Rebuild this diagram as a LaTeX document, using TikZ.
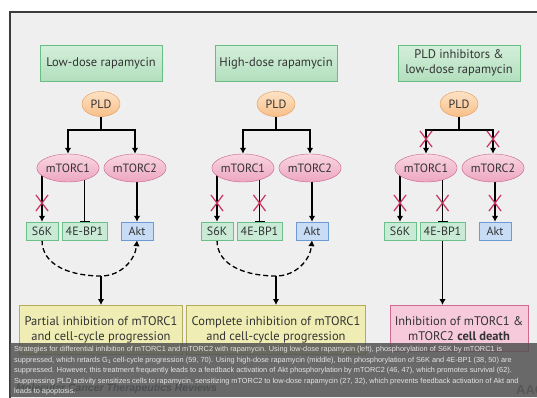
\documentclass[tikz,border=0pt]{standalone}
\usepackage{fontspec}
\setmainfont{PT Sans}
\newfontfamily\capfont{Liberation Sans}
\usetikzlibrary{positioning,shapes.geometric,shapes.misc,arrows.meta,backgrounds}
\definecolor{cPanel}{HTML}{EFEFEF}
\definecolor{cFrame}{HTML}{3C3C3C}
\definecolor{cHeadTop}{HTML}{D4EFDA}
\definecolor{cHeadBot}{HTML}{B2DFBE}
\definecolor{cHeadLine}{HTML}{68BD82}
\definecolor{cPldTop}{HTML}{FDE3C6}
\definecolor{cPldBot}{HTML}{F8BF88}
\definecolor{cPldLine}{HTML}{E39552}
\definecolor{cTorTop}{HTML}{F9D6E2}
\definecolor{cTorBot}{HTML}{EDA6C0}
\definecolor{cTorLine}{HTML}{C65F88}
\definecolor{cSub}{HTML}{C9EBD6}
\definecolor{cSubLine}{HTML}{6BBF8A}
\definecolor{cAkt}{HTML}{C8DDF5}
\definecolor{cAktLine}{HTML}{6C9AD4}
\definecolor{cOut}{HTML}{EFEDB4}
\definecolor{cOutLine}{HTML}{B2AC5C}
\definecolor{cDeath}{HTML}{F6CADB}
\definecolor{cDeathLine}{HTML}{D06890}
\definecolor{cBlock}{HTML}{C8325F}
\definecolor{cVeil}{HTML}{525252}
\definecolor{cCap}{HTML}{E4E4E4}
\definecolor{cBrand}{HTML}{34404C}

\begin{document}
\begin{tikzpicture}[
  x=1pt, y=-1pt,
  font=\fontsize{12}{14}\selectfont,
  >={Latex[length=6pt,width=6.5pt]},
  hd/.style   = {draw=cHeadLine, top color=cHeadTop, bottom color=cHeadBot,
                 minimum width=122pt, minimum height=36pt, align=center,
                 text=black!80, font=\fontsize{12.5}{15}\selectfont},
  pld/.style  = {ellipse, draw=cPldLine, top color=cPldTop, bottom color=cPldBot,
                 minimum width=38pt, minimum height=25pt, inner sep=0pt, text=black!80},
  tor/.style  = {ellipse, draw=cTorLine, top color=cTorTop, bottom color=cTorBot,
                 minimum width=58pt, minimum height=28pt, inner sep=0pt, text=black!80},
  sub/.style  = {draw=cSubLine, fill=cSub, minimum width=32pt, minimum height=18pt,
                 inner xsep=4pt, text=black!80},
  akt/.style  = {sub, draw=cAktLine, fill=cAkt},
  res/.style  = {draw=cOutLine, fill=cOut, anchor=north, align=center,
                 inner xsep=5pt, inner ysep=11pt, text=black!80,
                 font=\fontsize{12.5}{15}\selectfont},
  blk/.style  = {cross out, draw=cBlock, line width=1.2pt,
                 minimum width=11pt, minimum height=15pt, inner sep=0pt},
  ln/.style   = {draw=black, line width=1.3pt},
  ar/.style   = {ln, ->},
  inh/.style  = {ln, -{Bar[width=10pt]}},
  dsh/.style  = {ar, dash pattern=on 5pt off 3pt},
]
\useasboundingbox (0,0) rectangle (537,397);
\begin{pgfonlayer}{background}
  \fill[white] (0,0) rectangle (537,397);
  \draw[cFrame, line width=1.5pt, fill=cPanel] (10,12) rectangle (547,407);
\end{pgfonlayer}

% one column per treatment
\foreach \c/\off/\head in {
  1/0/{Low-dose rapamycin},
  2/175/{High-dose rapamycin},
  3/358/{PLD inhibitors \&\\low-dose rapamycin}}
{
  \begin{scope}[xshift=\off pt]
    \node[hd]  (hd\c)   at (101,63)  {\head};
    \node[pld] (pld\c)  at (101,104) {PLD};
    \node[tor] (tora\c) at (68,168)  {mTORC1};
    \node[tor] (torb\c) at (135,168) {mTORC2};
    \node[sub] (s6k\c)  at (42,231)  {S6K};
    \node[sub] (bp\c)   at (84.5,231) {4E-BP1};
    \node[akt] (akt\c)  at (137,231) {Akt};
    \coordinate (br\c)  at (101,130);
    \begin{pgfonlayer}{background}
      \draw[ln]  (pld\c) -- (br\c);
      \draw[ar, <->] (tora\c.north) |- (br\c) -| (torb\c.north);
      \draw[ar]  (s6k\c.north |- tora\c) -- (s6k\c.north);
      \draw[inh] (bp\c.north |- tora\c) -- (bp\c.north);
      \draw[ar]  (akt\c.north |- torb\c) -- (akt\c.north);
    \end{pgfonlayer}
  \end{scope}
}

% feedback loop to Akt
\foreach \c/\txt in {
  1/{Partial inhibition of mTORC1\\and cell-cycle progression},
  2/{Complete inhibition of mTORC1\\and cell-cycle progression}}
{
  \node[res] (res\c) at (hd\c |- 0,305) {\txt};
  \coordinate (fb\c) at (hd\c |- 0,276);
  \begin{pgfonlayer}{background}
    \draw[dsh] (s6k\c.south) to[out=-90,in=180] (fb\c) to[out=0,in=-95] (akt\c.south);
    \draw[ar]  (fb\c) -- (res\c.north);
  \end{pgfonlayer}
}

\node[res, draw=cDeathLine, fill=cDeath] (res3) at (hd3 |- 0,305)
  {Inhibition of mTORC1 \&\\mTORC2 \textbf{cell death}};
\begin{pgfonlayer}{background}
  \draw[ar] (bp3.south) -- (bp3 |- res3.north);
\end{pgfonlayer}

% blocked steps
\foreach \n/\p/\yy in {xa/s6k1/203, xb/s6k2/203, xc/bp2/203, xd/tora3/139,
                       xe/torb3/139, xf/s6k3/203, xg/bp3/203, xh/akt3/203}
  \node[blk] (\n) at (\p.north |- 0,\yy) {};

% caption strip
\node[anchor=west, text=cBrand, font={\fontsize{10.5}{12}\capfont\bfseries\itshape},
      inner sep=0pt] (brand) at (16,389) {Molecular Cancer Therapeutics Reviews};
\node[anchor=west, text=black!55, font={\fontsize{13}{15}\capfont\bfseries},
      inner sep=0pt] (aacr) at (516,390) {AACR};
\fill[cVeil, opacity=0.85] (10,343) rectangle (537,397);
\node[anchor=north west, align=left, text=cCap, inner sep=0pt,
      font={\fontsize{7.35}{10.6}\capfont}] (cap) at (14,346)
  {Strategies for differential inhibition of mTORC1 and mTORC2 with rapamycin. Using low-dose rapamycin (left), phosphorylation of S6K by mTORC1 is\\
   suppressed, which retards G\textsubscript{1} cell-cycle progression (59, 70). Using high-dose rapamycin (middle), both phosphorylation of S6K and 4E-BP1 (38, 50) are\\
   suppressed. However, this treatment frequently leads to a feedback activation of Akt phosphorylation by mTORC2 (46, 47), which promotes survival (62).\\
   Suppressing PLD activity sensitizes cells to rapamycin, sensitizing mTORC2 to low-dose rapamycin (27, 32), which prevents feedback activation of Akt and\\
   leads to apoptosis.};
\end{tikzpicture}
\end{document}
